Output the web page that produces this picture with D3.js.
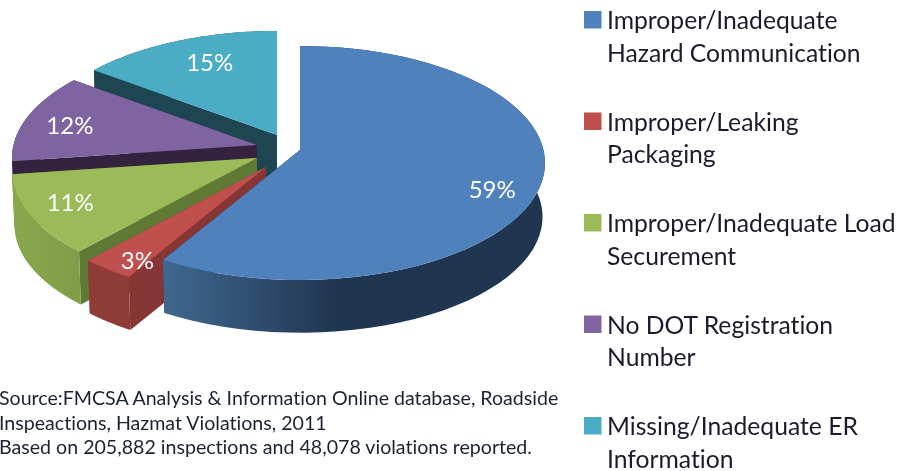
<!DOCTYPE html>
<html><head><meta charset="utf-8">
<script src="https://cdnjs.cloudflare.com/ajax/libs/d3/7.8.5/d3.min.js"></script>
<style>html,body{margin:0;padding:0;background:#fff}svg{display:block;filter:blur(.45px)}text{font-family:Lato,"Open Sans",sans-serif;font-variant-ligatures:none}</style>
</head><body><svg id="c" width="901" height="471"></svg>
<script>
// ---- data
const categories = ["Improper/Inadequate Hazard Communication","Improper/Leaking Packaging","Improper/Inadequate Load Securement","No DOT Registration Number","Missing/Inadequate ER Information"];
const values = [58.5,3.2,11.1,12.4,14.8];
const legendLines = [["Improper/Inadequate","Hazard Communication"],["Improper/Leaking","Packaging"],["Improper/Inadequate Load","Securement"],["No DOT Registration","Number"],["Missing/Inadequate ER","Information"]];
const sourceLines = ["Source:FMCSA Analysis & Information Online database, Roadside","Inspeactions, Hazmat Violations, 2011","Based on 205,882 inspections and 48,078 violations reported."];
// ---- styles
const topColors = ["#4f81bd","#c0504d","#9bbb59","#8064a2","#4bacc6"];
const wallColors = ["#22384f","#863634","#5f7a35","#34233f","#1d4552"];
const sideStops = [["#40678f","#1f3550"],["#8f3c39","#8f3c39"],["#8aa94e","#7d9b46"],["#34233f","#34233f"],["#1d4552","#1d4552"]];
// ---- layout of the tilted, exploded pie
const R = 243.5, Ry = 115.6, k = 0.111, depth = 54, shrink = 0.99;
const apexX = [300,266,257,257,277], apexY = [150,167,158,145,135];
const labelAngle = [113.7,213,243,282,336], labelRadius = [.83,.89,.825,.8,.73];

const svg = d3.select("#c");
const toRad = d => d*Math.PI/180;
function proj(a,r){ // a: clockwise from top; near edge is magnified
  const u=r*Math.sin(a), v=-r*Math.cos(a), s=1/(1-k*v);
  return [R*u*s, Ry*v*s];
}
const arcs = d3.pie().sort(null).value(d=>d).startAngle(0).endAngle(2*Math.PI)(values);
const line = d3.line();
const defs = svg.append("defs");
const sample = (a0,a1) => d3.range(0,61).map(i=>a0+(a1-a0)*i/60);

arcs.forEach((d,i)=>{
  const g = defs.append("linearGradient").attr("id","side"+i).attr("gradientUnits","userSpaceOnUse");
  const xs = i===0 ? [165,340] : i===2 ? [10,90] : [80,140];
  g.attr("x1",xs[0]).attr("x2",xs[1]).attr("y1",0).attr("y2",0);
  g.append("stop").attr("offset",0).attr("stop-color",sideStops[i][0]);
  g.append("stop").attr("offset",1).attr("stop-color",sideStops[i][1]);
});

// painter's order: back slices first, blue last
const order = [4,3,2,1,0];
order.forEach(i=>{
  const d = arcs[i], ax=apexX[i], ay=apexY[i];
  const T = (a,r=1)=>{const p=proj(a,r);return [ax+p[0],ay+p[1]];};
  const B = (a,r=1)=>{const p=proj(a,r);return [ax+p[0]*shrink,ay+p[1]*shrink+depth];};
  const g = svg.append("g").attr("class","slice");
  // inner cut walls
  [d.startAngle,d.endAngle].forEach(a=>{
    g.append("path").attr("fill",wallColors[i])
     .attr("d",line([[ax,ay],T(a),B(a),[ax,ay+depth]])+"Z");
  });
  // curved rim
  const pts = sample(d.startAngle,d.endAngle);
  const rim = pts.map(a=>T(a)).concat(pts.slice().reverse().map(a=>B(a)));
  g.append("path").attr("fill",`url(#side${i})`).attr("d",line(rim)+"Z");
  // top face
  g.append("path").attr("fill",topColors[i])
   .attr("d",line([[ax,ay]].concat(pts.map(a=>T(a))))+"Z");
});

// value labels
arcs.forEach((d,i)=>{
  const p = proj(toRad(labelAngle[i]),labelRadius[i]);
  svg.append("text").attr("x",apexX[i]+p[0]).attr("y",apexY[i]+p[1]+8)
   .attr("text-anchor","middle").attr("font-size",24).attr("fill","#fff")
   .text(Math.round(d.data)+"%");
});

// legend
const legendY = d3.scaleLinear().domain([0,4]).range([20,426]);
const legend = svg.selectAll("g.legend").data(categories).join("g").attr("class","legend")
  .attr("transform",(d,i)=>`translate(584,${legendY(i)})`);
legend.append("rect").attr("y",-9).attr("width",17.5).attr("height",17.5).attr("fill",(d,i)=>topColors[i]);
legend.each(function(d,i){
  d3.select(this).selectAll("text").data(legendLines[i]).join("text")
   .attr("x",23).attr("y",(t,j)=>9+j*32.5).attr("font-size",24.7).attr("fill","#1b1b2b").text(t=>t);
});

// source note
const srcY = d3.scalePoint().domain(d3.range(3)).range([405,454]);
svg.selectAll("text.src").data(sourceLines).join("text").attr("class","src")
  .attr("x",-1).attr("y",(t,i)=>srcY(i)).attr("font-size",19.6).attr("fill","#1b2330").text(t=>t);
</script></body></html>
